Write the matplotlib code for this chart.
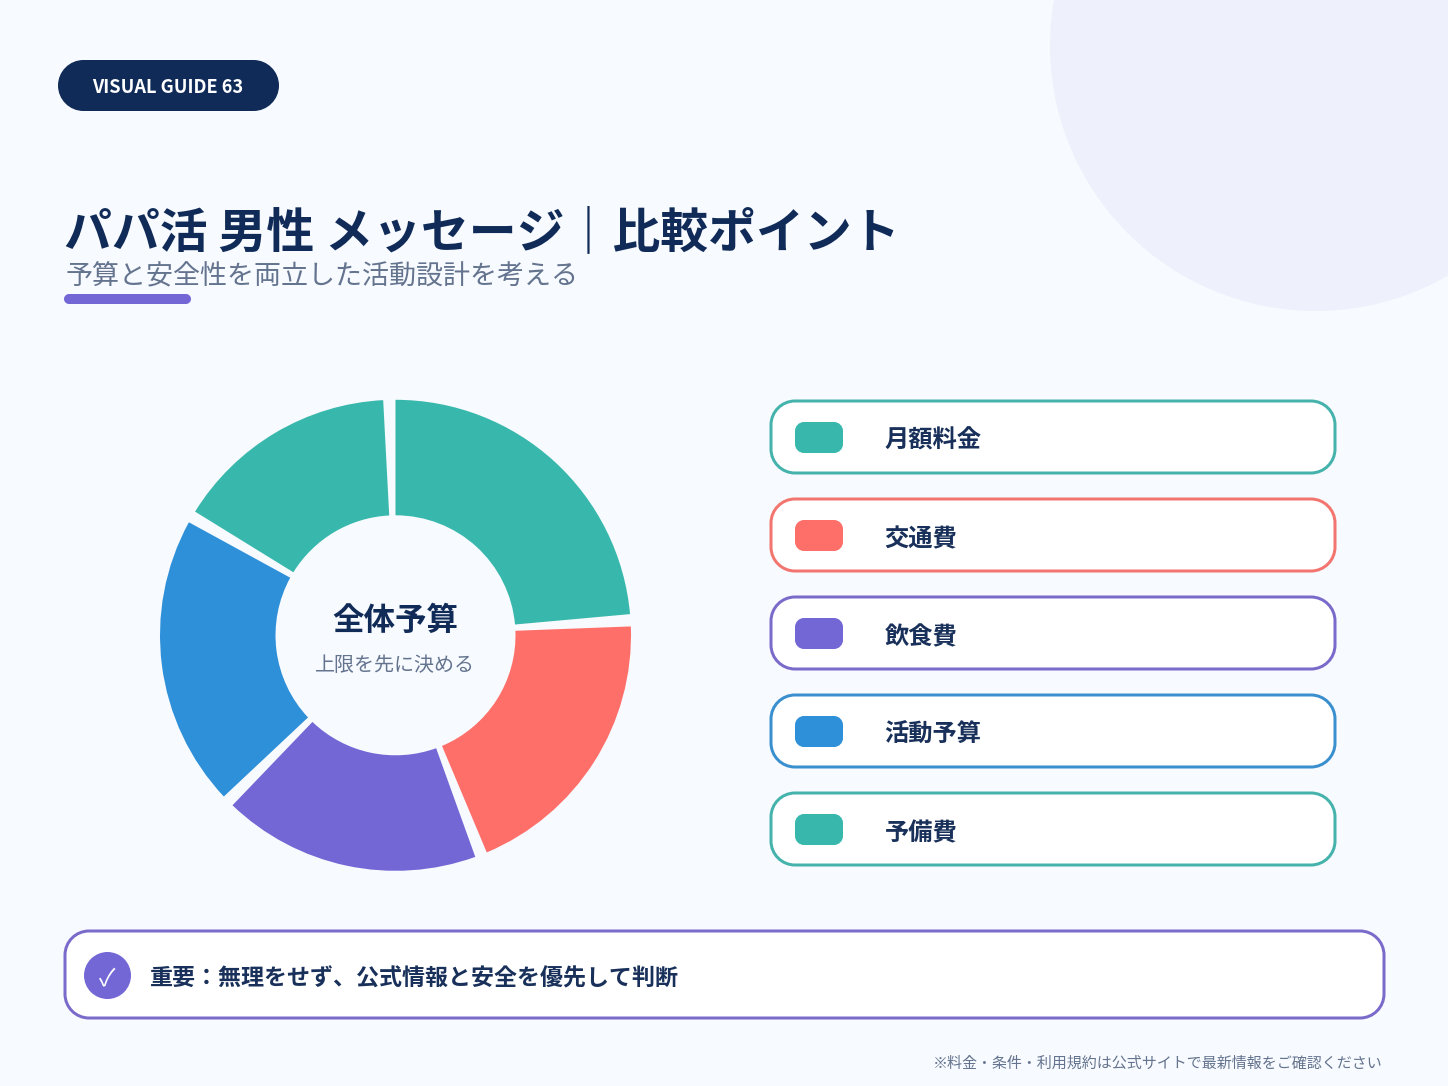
#!/usr/bin/env python
# -*- coding: utf-8 -*-
import matplotlib
matplotlib.use("Agg")
import matplotlib.pyplot as plt
from matplotlib.patches import Circle, PathPatch
from matplotlib.path import Path

plt.rcParams["font.family"] = ["Noto Sans CJK JP", "DejaVu Sans"]

W, H = 1448, 1086
DPI = 100

BG = "#f7fafe"
NAVY = "#102b58"
INK = "#18305a"
GREY = "#64748f"
TEAL = "#38b8ac"
CORAL = "#ff6f69"
PURPLE = "#7367d6"
BLUE = "#2e90d9"

# data
categories = ["月額料金", "交通費", "飲食費", "活動予算", "予備費"]
shares = [24.4, 20.1, 18.5, 20.8, 16.2]
colors = [TEAL, CORAL, PURPLE, BLUE, TEAL]
strokes = ["#45b3ac", "#f2756f", "#7a6bcb", "#3a8fcf", "#45b3ac"]

badge_text = "VISUAL GUIDE 63"
title = "パパ活 男性 メッセージ｜比較ポイント"
subtitle = "予算と安全性を両立した活動設計を考える"
center_title = "全体予算"
center_sub = "上限を先に決める"
note = "重要：無理をせず、公式情報と安全を優先して判断"
footer = "※料金・条件・利用規約は公式サイトで最新情報をご確認ください"

DONUT_X, DONUT_Y = 395.5, 635.3
DONUT_R, DONUT_r = 235.5, 120
GAP_DEG = 3


def px(size):
    return size * 72 / DPI


def rbox(ax, x0, y0, x1, y1, radius, fc, ec="none", lw=0, zorder=2):
    # corners as true quarter circles, FancyBboxPatch draws them too tight
    k = radius * (1 - 0.5523)
    r = radius
    verts = [(x0 + r, y0), (x1 - r, y0),
             (x1 - k, y0), (x1, y0 + k), (x1, y0 + r),
             (x1, y1 - r),
             (x1, y1 - k), (x1 - k, y1), (x1 - r, y1),
             (x0 + r, y1),
             (x0 + k, y1), (x0, y1 - k), (x0, y1 - r),
             (x0, y0 + r),
             (x0, y0 + k), (x0 + k, y0), (x0 + r, y0),
             (x0 + r, y0)]
    codes = [Path.MOVETO, Path.LINETO,
             Path.CURVE4, Path.CURVE4, Path.CURVE4,
             Path.LINETO,
             Path.CURVE4, Path.CURVE4, Path.CURVE4,
             Path.LINETO,
             Path.CURVE4, Path.CURVE4, Path.CURVE4,
             Path.LINETO,
             Path.CURVE4, Path.CURVE4, Path.CURVE4,
             Path.CLOSEPOLY]
    p = PathPatch(Path(verts, codes), fc=fc, ec=ec, lw=lw, zorder=zorder)
    ax.add_patch(p)
    return p


fig = plt.figure(figsize=(W / DPI, H / DPI), dpi=DPI, facecolor=BG)
ax = fig.add_axes([0, 0, 1, 1])
ax.set_xlim(0, W)
ax.set_ylim(H, 0)
ax.axis("off")

# decor
ax.add_patch(Circle((1315.5, 45.5), 265.5, fc="#eef1fc", ec="none", zorder=1))

# header
rbox(ax, 58, 60, 279, 111, 25.5, NAVY)
ax.text(167.5, 93, badge_text, ha="center", va="baseline", color="white",
        fontsize=px(18.2), fontweight="bold", zorder=3)
ax.text(64, 247, title, ha="left", va="baseline", color=NAVY,
        fontsize=px(47.9), fontweight="bold", zorder=3)
ax.text(66, 284.5, subtitle, ha="left", va="baseline", color=GREY,
        fontsize=px(27.05), zorder=3)
rbox(ax, 64, 294, 191, 304, 5, PURPLE)

# donut
ax_pie = fig.add_axes([(DONUT_X - DONUT_R) / W, 1 - (DONUT_Y + DONUT_R) / H,
                       2 * DONUT_R / W, 2 * DONUT_R / H])
wedges, _ = ax_pie.pie(shares, colors=colors, startangle=90, counterclock=False, radius=1,
                       wedgeprops={"width": (DONUT_R - DONUT_r) / DONUT_R, "linewidth": 0})
for w in wedges:
    # clockwise end of each slice is theta1
    w.set_theta1(w.theta1 + GAP_DEG)
ax_pie.set_xlim(-1, 1)
ax_pie.set_ylim(-1, 1)
ax_pie.patch.set_alpha(0)

ax.set_zorder(0)
ax_pie.set_zorder(1)

ax_txt = fig.add_axes([0, 0, 1, 1], zorder=2)
ax_txt.set_xlim(0, W)
ax_txt.set_ylim(H, 0)
ax_txt.axis("off")
ax_txt.text(DONUT_X - 0.3, 629.5, center_title, ha="center", va="baseline", color=NAVY,
            fontsize=px(31.5), fontweight="bold")
ax_txt.text(DONUT_X - 0.5, 671, center_sub, ha="center", va="baseline", color=GREY,
            fontsize=px(20))

# legend
for i, (cat, col, stroke) in enumerate(zip(categories, colors, strokes)):
    top = 401 + 98 * i
    rbox(ax, 771, top, 1335, top + 72, 24, "white", ec=stroke, lw=px(3))
    rbox(ax, 795, top + 21, 843, top + 52, 9, col, zorder=3)
    ax.text(884.5, top + 47, cat, ha="left", va="baseline", color=INK,
            fontsize=px(24.3), fontweight="bold", zorder=3)

# note
rbox(ax, 65, 931, 1384, 1018, 24, "white", ec=strokes[2], lw=px(3))
ax.add_patch(Circle((107.5, 975.5), 23.5, fc=PURPLE, ec="none", zorder=3))
ax.text(107.5, 985, "✓", ha="center", va="baseline", color="white",
        fontsize=px(24), zorder=4)
ax.text(150, 985.6, note, ha="left", va="baseline", color=INK,
        fontsize=px(23), fontweight="bold", zorder=3)

ax.text(1382.6, 1068, footer, ha="right", va="baseline", color=GREY,
        fontsize=px(15.02), zorder=3)

fig.savefig("out.png", dpi=DPI)
plt.close(fig)
